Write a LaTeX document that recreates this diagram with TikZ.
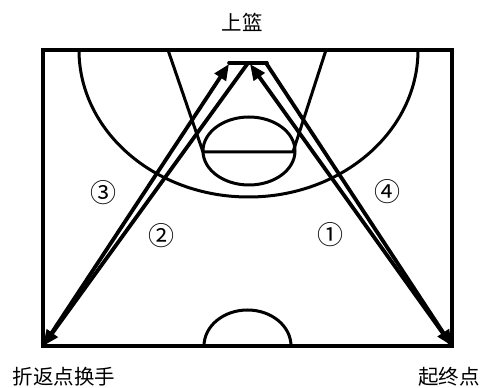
\documentclass[tikz,border=0pt]{standalone}
\usepackage{fontspec}
\newfontfamily\cjk{Noto Sans CJK SC}
\usetikzlibrary{arrows.meta,positioning}
\tikzset{
      court/.style   = {black, line width=3.6pt, line cap=round, line join=miter},
      courtarc/.style = {black, line width=3pt},
      runpath/.style = {black, line width=3.8pt, -{Triangle[length=16pt,width=13pt]}},
      place node/.style = {font=\cjk\fontsize{20.5}{20.5}\selectfont, inner sep=0pt},
      order node/.style = {font=\cjk\fontsize{26}{26}\selectfont, inner sep=0pt},
    }
\begin{document}
\begin{tikzpicture}[x=1pt,y=1pt]
            \useasboundingbox (0,0) rectangle (482,388);
            % court
            \coordinate (bl) at (43,42);
            \coordinate (br) at (452,42);
            \coordinate (tl) at (43,338);
            \coordinate (tr) at (452,338);
            \coordinate (boardl) at (229,325);
            \coordinate (boardm) at (248,325);
            \coordinate (boardr) at (267,325);
            \coordinate (lanetl) at (168,338);
            \coordinate (lanetr) at (326,338);
            \coordinate (lanebl) at (203,236);
            \coordinate (lanebr) at (293,236);

            \draw [court] (bl) rectangle (tr);
            \draw [court] (boardl) -- (boardr);
            \draw [courtarc] (79,338) arc [start angle=180, end angle=360, x radius=169.5, y radius=147];
            \draw [courtarc] (lanetl) -- (lanebl) -- (lanebr) -- (lanetr);
            \draw [courtarc] (249,237) ellipse [x radius=46, y radius=34];
            \draw [courtarc] (204,42) arc [start angle=180, end angle=0, x radius=43.5, y radius=36];

            % runs
            \draw [runpath] (br) -- (250,324);
            \draw [runpath] (boardm) -- (bl);
            \draw [runpath] (bl) -- (229,324);
            \draw [runpath] (266,325) -- (br);

            % labels
            \node [place node] (basket) at (242,366) {上篮};
            \node [place node] (turn)   at (64,11)   {折返点换手};
            \node [place node] (start)  at (449,11)  {起终点};
            \node [order node] (one)    at (330,153) {①};
            \node [order node] (two)    at (161,152) {②};
            \node [order node] (three)  at (103,195) {③};
            \node [order node] (four)   at (387,196) {④};
      \end{tikzpicture}
\end{document}
